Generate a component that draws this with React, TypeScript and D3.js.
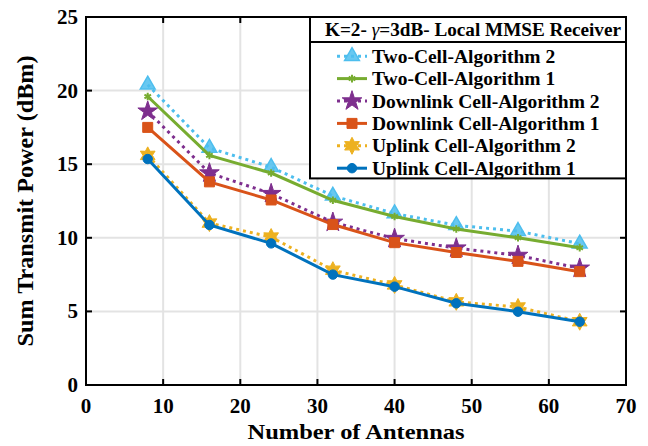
import * as d3 from 'd3';

const antennas = [8, 16, 24, 32, 40, 48, 56, 64];

const twoCellAlg2 = [20.4, 16.1, 14.8, 12.85, 11.65, 10.85, 10.45, 9.6];
const twoCellAlg1 = [19.6, 15.6, 14.4, 12.55, 11.45, 10.6, 10.0, 9.33];
const downlinkAlg2 = [18.6, 14.4, 13.0, 11.05, 9.95, 9.3, 8.8, 7.93];
const downlinkAlg1 = [17.5, 13.8, 12.57, 10.9, 9.67, 9.0, 8.4, 7.7];
const uplinkAlg2 = [15.6, 11.0, 10.05, 7.8, 6.8, 5.65, 5.3, 4.3];
const uplinkAlg1 = [15.35, 10.87, 9.62, 7.5, 6.68, 5.55, 4.98, 4.3];

const xTicks = [0, 10, 20, 30, 40, 50, 60, 70];
const yTicks = [0, 5, 10, 15, 20, 25];

type Marker = 'triangle' | 'asterisk' | 'star' | 'square' | 'hexagram' | 'circle';

interface Series {
  name: string;
  values: number[];
  color: string;
  dotted: boolean;
  marker: Marker;
}

const series: Series[] = [
  { name: 'Two-Cell-Algorithm 2', values: twoCellAlg2, color: '#4DBEEE', dotted: true, marker: 'triangle' },
  { name: 'Two-Cell-Algorithm 1', values: twoCellAlg1, color: '#77AC30', dotted: false, marker: 'asterisk' },
  { name: 'Downlink Cell-Algorithm 2', values: downlinkAlg2, color: '#7E2F8E', dotted: true, marker: 'star' },
  { name: 'Downlink Cell-Algorithm 1', values: downlinkAlg1, color: '#D95319', dotted: false, marker: 'square' },
  { name: 'Uplink Cell-Algorithm 2', values: uplinkAlg2, color: '#EDB120', dotted: true, marker: 'hexagram' },
  { name: 'Uplink Cell-Algorithm 1', values: uplinkAlg1, color: '#0072BD', dotted: false, marker: 'circle' },
];

const W = 648;
const H = 446;
const left = 86;
const right = 626;
const top = 17;
const bottom = 385;
const font = '"Liberation Serif", "Times New Roman", serif';

const x = d3.scaleLinear().domain([0, 70]).range([left, right]);
const y = d3.scaleLinear().domain([0, 25]).range([bottom, top]);

const line = d3.line<number>()
  .x((_, i) => x(antennas[i]))
  .y(d => y(d));

// six-pointed star, not in d3's symbol set
const hexagram = (r: number) => {
  const pts: string[] = [];
  for (let i = 0; i < 12; i++) {
    const a = (i * Math.PI) / 6 - Math.PI / 2;
    const rr = i % 2 === 0 ? r : r * 0.55;
    pts.push(`${(rr * Math.cos(a)).toFixed(2)},${(rr * Math.sin(a)).toFixed(2)}`);
  }
  return 'M' + pts.join('L') + 'Z';
};

function MarkerShape({ m, color, cx, cy }: { m: Marker; color: string; cx: number; cy: number }) {
  const t = `translate(${cx},${cy})`;
  if (m === 'triangle') {
    return <path transform={t} d={d3.symbol(d3.symbolTriangle, 95)()!} fill={color} fillOpacity={0.85} stroke={color} strokeWidth={1.5} />;
  }
  if (m === 'asterisk') {
    return <path transform={t} d={d3.symbol(d3.symbolAsterisk, 40)()!} fill="none" stroke={color} strokeWidth={2} />;
  }
  if (m === 'star') {
    return <path transform={t} d={d3.symbol(d3.symbolStar, 120)()!} fill={color} stroke={color} strokeWidth={1} />;
  }
  if (m === 'square') {
    return <path transform={t} d={d3.symbol(d3.symbolSquare, 100)()!} fill={color} stroke={color} strokeWidth={1} />;
  }
  if (m === 'hexagram') {
    return <path transform={t} d={hexagram(8.5)} fill={color} stroke={color} strokeWidth={1} />;
  }
  return <path transform={t} d={d3.symbol(d3.symbolCircle, 70)()!} fill={color} stroke={color} strokeWidth={1} />;
}

export default function App() {
  const legX = 310;
  const legY = top;
  const legW = right - legX;
  const legTitleH = 25;
  const rowH = 22.4;
  const legH = legTitleH + rowH * series.length + 2;

  return (
    <svg width={W} height={H} style={{ position: 'absolute', left: 0, top: 0, background: '#fff' }} fontFamily={font}>
      <rect x={0} y={0} width={W} height={H} fill="#fff" />
      {/* grid */}
      <g stroke="#e3e3e3" strokeWidth={2}>
        {xTicks.slice(1, -1).map(t => (
          <line key={'gx' + t} x1={x(t)} x2={x(t)} y1={top} y2={bottom} />
        ))}
        {yTicks.slice(1, -1).map(t => (
          <line key={'gy' + t} x1={left} x2={right} y1={y(t)} y2={y(t)} />
        ))}
      </g>

      {/* series */}
      {series.map(s => (
        <g key={s.name}>
          <path
            d={line(s.values)!}
            fill="none"
            stroke={s.color}
            strokeWidth={3}
            strokeDasharray={s.dotted ? '3 4' : undefined}
          />
          {s.values.map((v, i) => (
            <MarkerShape key={i} m={s.marker} color={s.color} cx={x(antennas[i])} cy={y(v)} />
          ))}
        </g>
      ))}

      {/* axes box and ticks */}
      <rect x={left} y={top} width={right - left} height={bottom - top} fill="none" stroke="#000" strokeWidth={2} />
      <g stroke="#000" strokeWidth={2}>
        {xTicks.map(t => (
          <g key={'tx' + t}>
            <line x1={x(t)} x2={x(t)} y1={bottom} y2={bottom - 6} />
            <line x1={x(t)} x2={x(t)} y1={top} y2={top + 6} />
          </g>
        ))}
        {yTicks.map(t => (
          <g key={'ty' + t}>
            <line x1={left} x2={left + 6} y1={y(t)} y2={y(t)} />
            <line x1={right} x2={right - 6} y1={y(t)} y2={y(t)} />
          </g>
        ))}
      </g>
      <g fontSize={21} fontWeight="bold" fill="#000">
        {xTicks.map(t => (
          <text key={'lx' + t} x={x(t)} y={bottom + 28} textAnchor="middle">{t}</text>
        ))}
        {yTicks.map(t => (
          <text key={'ly' + t} x={left - 8} y={y(t) + 7} textAnchor="end">{t}</text>
        ))}
      </g>
      <text
        x={(left + right) / 2}
        y={439}
        textAnchor="middle"
        fontSize={21}
        fontWeight="bold"
        textLength={217}
        lengthAdjust="spacingAndGlyphs"
      >
        Number of Antennas
      </text>
      <text
        transform={`translate(33,${(top + bottom) / 2}) rotate(-90)`}
        textAnchor="middle"
        fontSize={23}
        fontWeight="bold"
        textLength={291}
        lengthAdjust="spacingAndGlyphs"
      >
        Sum Transmit Power (dBm)
      </text>

      {/* legend */}
      <g>
        <rect x={legX} y={legY} width={legW} height={legH} fill="#fff" stroke="#000" strokeWidth={2} />
        <line x1={legX} x2={right} y1={legY + legTitleH} y2={legY + legTitleH} stroke="#000" strokeWidth={2} />
        <text x={legX + 15} y={legY + 19} fontSize={18.5} fontWeight="bold" textLength={296} lengthAdjust="spacingAndGlyphs">
          K=2- <tspan fontStyle="italic" fontWeight="normal">{'\u03B3'}</tspan>=3dB- Local MMSE Receiver
        </text>
        {series.map((s, i) => {
          const cy = legY + legTitleH + rowH * (i + 0.5) + 3;
          return (
            <g key={'leg' + s.name}>
              <line
                x1={legX + 27}
                x2={legX + 57}
                y1={cy}
                y2={cy}
                stroke={s.color}
                strokeWidth={3}
                strokeDasharray={s.dotted ? '3 4' : undefined}
              />
              <MarkerShape m={s.marker} color={s.color} cx={legX + 42} cy={cy} />
              <text x={legX + 62} y={cy + 6.5} fontSize={19.5} fontWeight="bold">{s.name}</text>
            </g>
          );
        })}
      </g>
    </svg>
  );
}
